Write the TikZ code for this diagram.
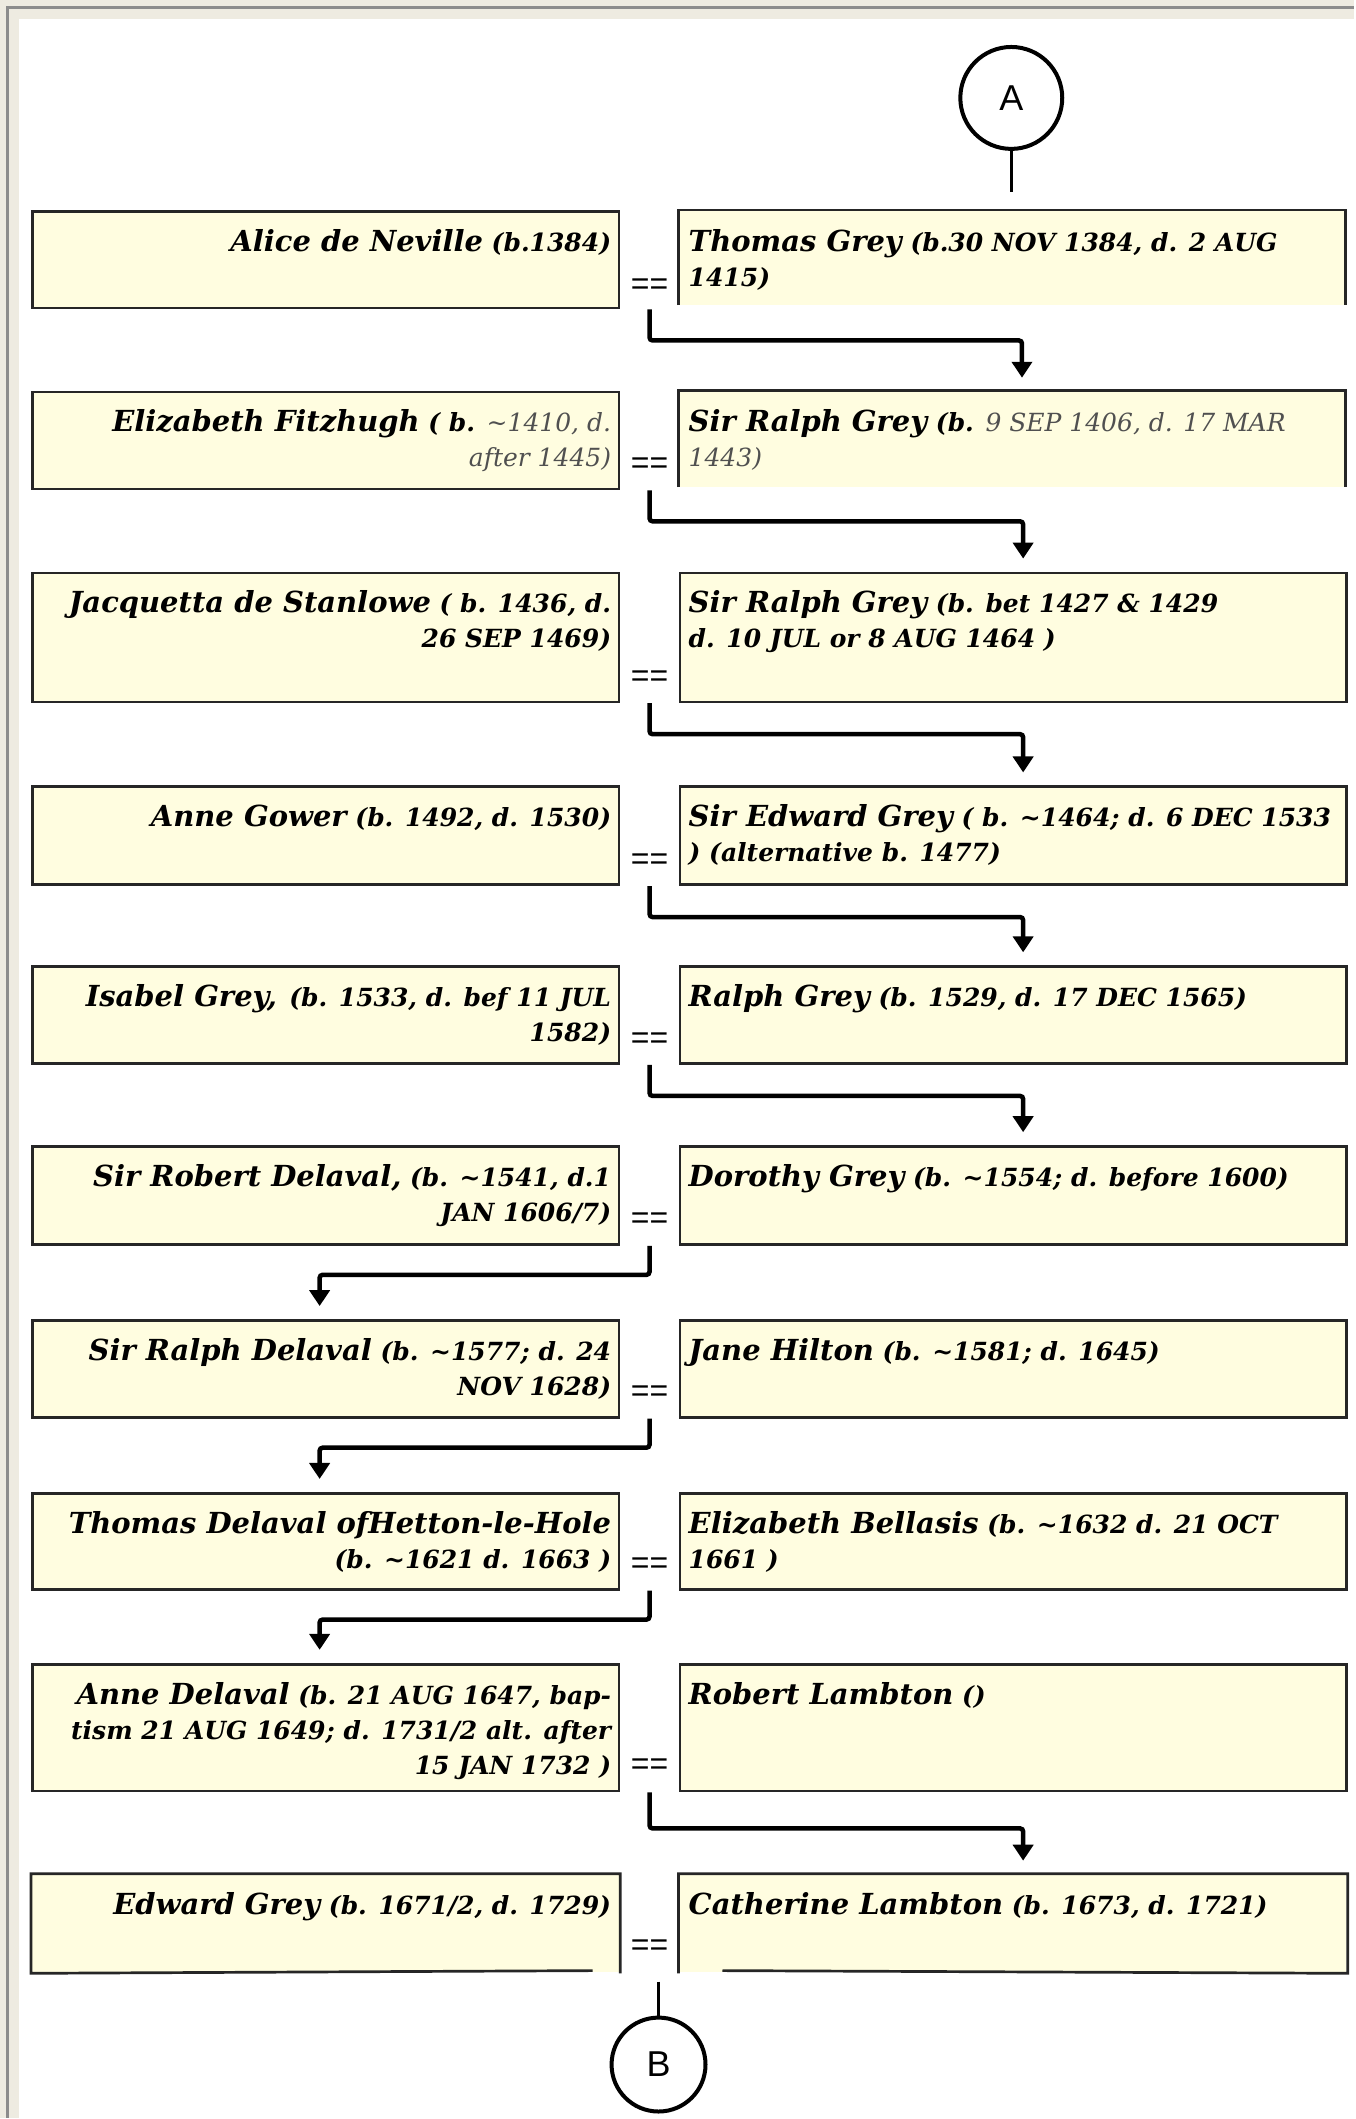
\documentclass[tikz,border=0pt]{standalone}
\usepackage{fontspec}
\setmainfont{DejaVu Serif}
\setsansfont{Liberation Sans}
\usetikzlibrary{arrows.meta,calc}
\definecolor{boxfill}{RGB}{255,253,224}
\definecolor{frameb}{RGB}{238,235,225}
\definecolor{frameg}{RGB}{140,140,140}
\definecolor{lighttxt}{RGB}{80,80,80}
\newcommand\nm[1]{{\fontsize{29}{35}\selectfont #1}}
\newcommand\lt[1]{{\mdseries\color{lighttxt}#1}}
\begin{document}
\begin{tikzpicture}[x=1pt,y=-1pt,
  lbox/.style={fill=boxfill, draw=black!85, line width=2.7pt, inner sep=0pt, minimum width=587pt, minimum height=#1, anchor=north west},
  rbox/.style={fill=boxfill, draw=black!85, line width=2.7pt, inner sep=0pt, minimum width=667pt, minimum height=#1, anchor=north west},
  rboxnb/.style={fill=boxfill, inner sep=0pt, minimum width=667pt, minimum height=#1, anchor=north west},
  edge/.style={draw=black!85, line width=2.7pt},
  ltxt/.style={anchor=north east, inner sep=0pt, align=right, font=\fontsize{25}{35}\selectfont\bfseries\itshape},
  rtxt/.style={anchor=north west, inner sep=0pt, align=left, font=\fontsize{25}{35}\selectfont\bfseries\itshape},
  eqs/.style={inner sep=0pt, font=\fontsize{32}{32}\selectfont\sffamily},
  conn/.style={draw=black, line width=4.5pt, rounded corners=3pt, -{Triangle[width=20pt,length=16pt]}},
  circ/.style={circle, draw=black, line width=4pt, inner sep=0pt, minimum size=#1, font=\fontsize{36}{36}\selectfont\sffamily},
  stem/.style={draw=black, line width=3pt}
]
% background frame
\fill[frameb] (0,0) rectangle (1355,2119);
\draw[frameg, line width=3pt] (7.5,2119) -- (7.5,7.5) -- (1355,7.5);
\fill[white] (19,19) rectangle (1355,2119);

% connector circle A
\node[circ=102pt] (A) at (1012,98) {A};
\coordinate (a1) at (1012,192);
\draw[stem] (A) -- (a1);

% Row 1
\node[lbox=97pt] (l1) at (31,210) {};
\node[rboxnb=95pt] (r1) at (679,210) {};
\draw[edge] (r1.south west) -- (r1.north west) -- (r1.north east) -- (r1.south east);
\node[ltxt] (tl1) at ([shift={(-9,19)}]l1.north east) {\nm{Alice de Neville} (b.1384)};
\node[rtxt] (tr1) at ([shift={(10,19)}]r1.north west) {\nm{Thomas Grey} (b.30 NOV 1384, d. 2 AUG\\1415)};
\node[eqs] (eq1) at (650,287) {==};

% Row 2
\node[lbox=97pt] (l2) at (31,391) {};
\node[rboxnb=96pt] (r2) at (679,391) {};
\draw[edge] (r2.south west) -- (r2.north west) -- (r2.north east) -- (r2.south east);
\node[ltxt] (tl2) at ([shift={(-9,19)}]l2.north east) {\nm{Elizabeth Fitzhugh} ( b. \lt{\textasciitilde1410, d.}\\\lt{after 1445)}};
\node[rtxt] (tr2) at ([shift={(10,19)}]r2.north west) {\nm{Sir Ralph Grey} (b. \lt{9 SEP 1406, d. 17 MAR}\\\lt{1443)}};
\node[eqs] (eq2) at (650,466) {==};

% Row 3
\node[lbox=129pt] (l3) at (31,572) {};
\node[rbox=129pt] (r3) at (679,572) {};
\node[ltxt] (tl3) at ([shift={(-9,19)}]l3.north east) {\nm{Jacquetta de Stanlowe} ( b. 1436, d.\\26 SEP 1469)};
\node[rtxt] (tr3) at ([shift={(10,19)}]r3.north west) {\nm{Sir Ralph Grey} (b. bet 1427 \& 1429\\d. 10 JUL or 8 AUG 1464 )};
\node[eqs] (eq3) at (650,679) {==};

% Row 4
\node[lbox=98pt] (l4) at (31,786) {};
\node[rbox=98pt] (r4) at (679,786) {};
\node[ltxt] (tl4) at ([shift={(-9,19)}]l4.north east) {\nm{Anne Gower} (b. 1492, d. 1530)};
\node[rtxt] (tr4) at ([shift={(10,19)}]r4.north west) {\nm{Sir Edward Grey} ( b. \textasciitilde1464; d. 6 DEC 1533\\) (alternative b. 1477)};
\node[eqs] (eq4) at (650,862) {==};

% Row 5
\node[lbox=97pt] (l5) at (31,966) {};
\node[rbox=97pt] (r5) at (679,966) {};
\node[ltxt] (tl5) at ([shift={(-9,19)}]l5.north east) {\nm{Isabel Grey,}\enspace (b. 1533, d. bef 11 JUL\\1582)};
\node[rtxt] (tr5) at ([shift={(10,19)}]r5.north west) {\nm{Ralph Grey} (b. 1529, d. 17 DEC 1565)};
\node[eqs] (eq5) at (650,1041) {==};

% Row 6
\node[lbox=98pt] (l6) at (31,1146) {};
\node[rbox=98pt] (r6) at (679,1146) {};
\node[ltxt] (tl6) at ([shift={(-9,19)}]l6.north east) {\nm{Sir Robert Delaval,} (b. \textasciitilde1541, d.1\\JAN 1606/7)};
\node[rtxt] (tr6) at ([shift={(10,19)}]r6.north west) {\nm{Dorothy Grey} (b. \textasciitilde1554; d. before 1600)};
\node[eqs] (eq6) at (650,1222) {==};

% Row 7
\node[lbox=97pt] (l7) at (31,1320) {};
\node[rbox=97pt] (r7) at (679,1320) {};
\node[ltxt] (tl7) at ([shift={(-9,19)}]l7.north east) {\nm{Sir Ralph Delaval} (b. \textasciitilde1577; d. 24\\NOV 1628)};
\node[rtxt] (tr7) at ([shift={(10,19)}]r7.north west) {\nm{Jane Hilton} (b. \textasciitilde1581; d. 1645)};
\node[eqs] (eq7) at (650,1395) {==};

% Row 8
\node[lbox=96pt] (l8) at (31,1493) {};
\node[rbox=96pt] (r8) at (679,1493) {};
\node[ltxt] (tl8) at ([shift={(-9,19)}]l8.north east) {\nm{Thomas Delaval ofHetton-le-Hole}\\(b. \textasciitilde1621 d. 1663 )};
\node[rtxt] (tr8) at ([shift={(10,19)}]r8.north west) {\nm{Elizabeth Bellasis} (b. \textasciitilde1632 d. 21 OCT\\1661 )};
\node[eqs] (eq8) at (650,1567) {==};

% Row 9
\node[lbox=127pt] (l9) at (31,1664) {};
\node[rbox=127pt] (r9) at (679,1664) {};
\node[ltxt] (tl9) at ([shift={(-9,19)}]l9.north east) {\nm{Anne Delaval} (b. 21 AUG 1647, bap-\\tism 21 AUG 1649; d. 1731/2 alt. after\\15 JAN 1732 )};
\node[rtxt] (tr9) at ([shift={(10,19)}]r9.north west) {\nm{Robert Lambton} ()};
\node[eqs] (eq9) at (650,1768) {==};

% Row 10
\node[lbox=97pt, draw=none] (l10) at (31,1875) {};
\node[rbox=97pt, draw=none] (r10) at (679,1875) {};
\coordinate (l10cut) at (593,1972);
\coordinate (r10cut) at (723,1972);
\draw[edge] (l10cut) -- (l10.south west) -- (l10.north west) -- (l10.north east) -- (l10.south east);
\draw[edge] (r10cut) -- (r10.south east) -- (r10.north east) -- (r10.north west) -- (r10.south west);
\node[ltxt] (tl10) at ([shift={(-9,19)}]l10.north east) {\nm{Edward Grey} (b. 1671/2, d. 1729)};
\node[rtxt] (tr10) at ([shift={(10,19)}]r10.north west) {\nm{Catherine Lambton} (b. 1673, d. 1721)};
\node[eqs] (eq10) at (650,1949) {==};

% descent connectors
\draw[conn] (l1.south -| eq1) -- ++(0,31) -| ([shift={(10,-13)}]r2.north);
\draw[conn] (l2.south -| eq2) -- ++(0,31) -| ([shift={(10,-13)}]r3.north);
\draw[conn] (l3.south -| eq3) -- ++(0,31) -| ([shift={(10,-13)}]r4.north);
\draw[conn] (l4.south -| eq4) -- ++(0,31) -| ([shift={(10,-13)}]r5.north);
\draw[conn] (l5.south -| eq5) -- ++(0,31) -| ([shift={(10,-13)}]r6.north);
\draw[conn] (l6.south -| eq6) -- ++(0,29) -| ([shift={(-6,-13)}]l7.north);
\draw[conn] (l7.south -| eq7) -- ++(0,29) -| ([shift={(-6,-13)}]l8.north);
\draw[conn] (l8.south -| eq8) -- ++(0,29) -| ([shift={(-6,-13)}]l9.north);
\draw[conn] (l9.south -| eq9) -- ++(0,36) -| ([shift={(10,-13)}]r10.north);

% connector circle B
\node[circ=94pt] (B) at (659,2066) {B};
\coordinate (b0) at (659,1983);
\draw[stem] (b0) -- (B);
\end{tikzpicture}
\end{document}
